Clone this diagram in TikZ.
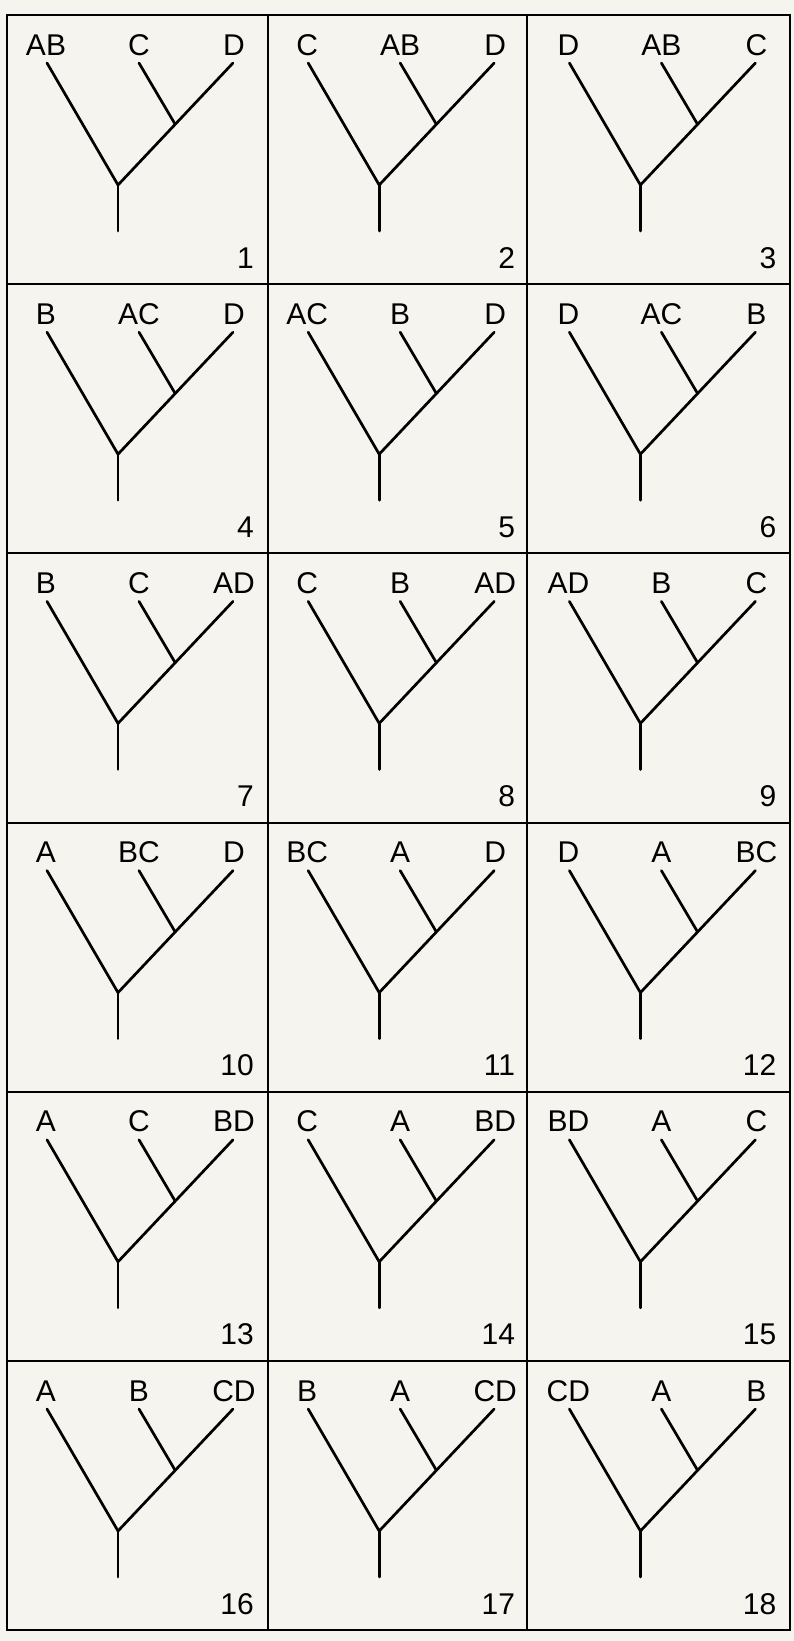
\documentclass[tikz,border=0pt]{standalone}
\usepackage{fontspec}
\setmainfont{Liberation Sans}
\usetikzlibrary{positioning,calc}
\definecolor{paper}{RGB}{246,244,238}

\begin{document}
\begin{tikzpicture}[x=1pt,y=-1pt,font=\fontsize{30}{36}\selectfont]
\tikzstyle{lbl}=[inner sep=0pt,anchor=base]
\tikzstyle{num}=[inner sep=0pt,anchor=base east]
\tikzstyle{branch}=[line width=2.7pt,line cap=round]
\tikzstyle{rule}=[line width=2pt]
\useasboundingbox (0,0) rectangle (794,1641);
\fill[paper] (0,0) rectangle (794,1641);
% frame and cell rules
\draw[rule] (7,15) rectangle (790,1630);
\foreach \gx in {268,527} \draw[rule] (\gx,15) -- (\gx,1630);
\foreach \gy in {284,553,823,1092,1361} \draw[rule] (7,\gy) -- (790,\gy);
% one tree per cell
\foreach \lt/\md/\rt [count=\n] in {AB/C/D,C/AB/D,D/AB/C,B/AC/D,AC/B/D,D/AC/B,B/C/AD,C/B/AD,AD/B/C,A/BC/D,BC/A/D,D/A/BC,A/C/BD,C/A/BD,BD/A/C,A/B/CD,B/A/CD,CD/A/B}{
  \pgfmathsetmacro\cx{7+261.2*mod(\n-1,3)}
  \pgfmathsetmacro\cy{15+269.2*floor((\n-1)/3)}
  \begin{scope}[shift={(\cx,\cy)}]
    \node[lbl] (la\n) at (39,40) {\lt};
    \node[lbl] (lb\n) at (132,40) {\md};
    \node[lbl] (lc\n) at (227,40) {\rt};
    \node[num] (nr\n) at (247,253) {\n};
    \coordinate (ta\n) at (40,48); \coordinate (tb\n) at (132,48); \coordinate (tc\n) at (226,48);
    \coordinate (fk\n) at (111,170); \coordinate (in\n) at (168,109); \coordinate (st\n) at (111,216);
    \draw[branch] (ta\n) -- (fk\n) -- (tc\n);
    \draw[branch] (tb\n) -- (in\n);
    \draw[branch] (fk\n) -- (st\n);
  \end{scope}
}
\end{tikzpicture}
\end{document}
